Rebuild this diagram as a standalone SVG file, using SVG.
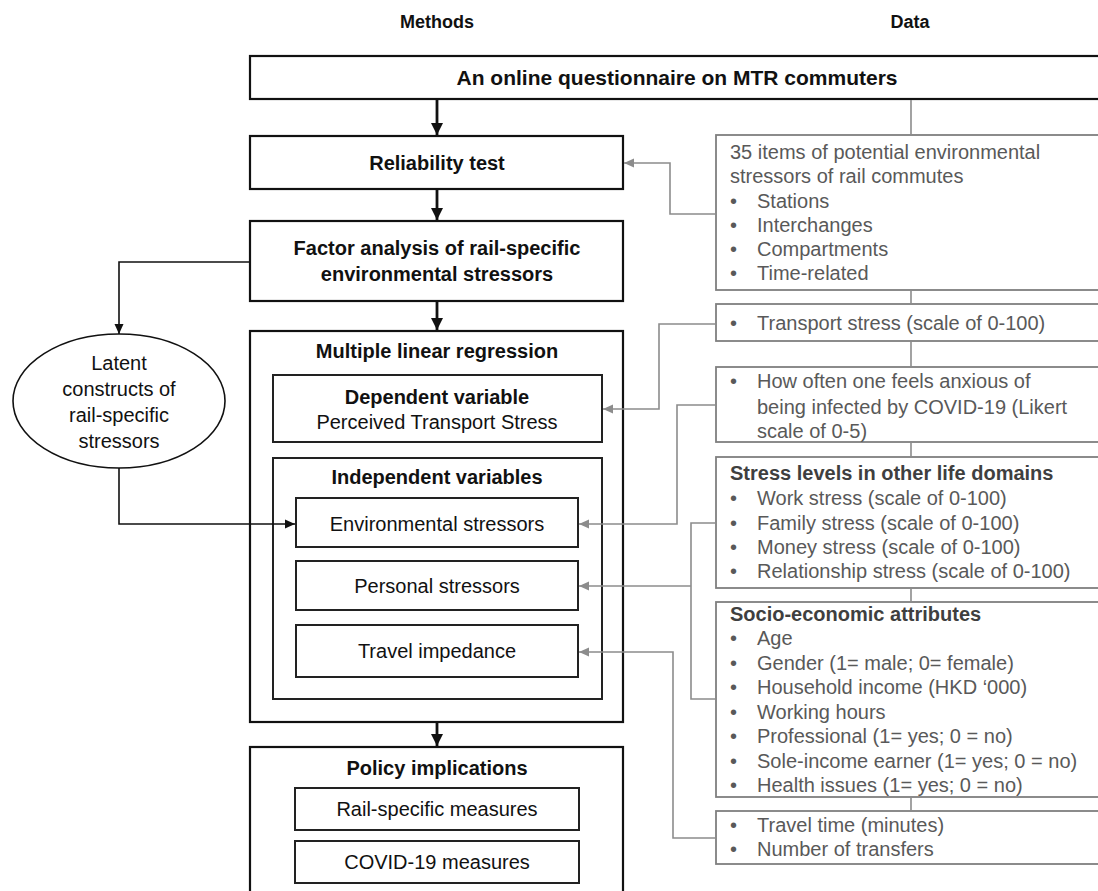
<svg xmlns="http://www.w3.org/2000/svg" width="1098" height="891" viewBox="0 0 1098 891">
<style>
text{font-family:"Liberation Sans",Arial,sans-serif}
.hdr{font-size:18px;font-weight:bold;fill:#111;text-anchor:middle}
.mb{font-size:20px;font-weight:bold;fill:#111;text-anchor:middle}
.mr{font-size:20px;fill:#111;text-anchor:middle}
.box{fill:#fff;stroke:#111;stroke-width:2.2}
.frame{fill:none;stroke:#111;stroke-width:2.2}
.ibox{fill:#fff;stroke:#222;stroke-width:2}
.dbox{fill:#fff;stroke:#7f7f7f;stroke-width:1.8}
.dt{font-size:20px;fill:#595959}
.db{font-size:20px;font-weight:bold;fill:#3f3f3f}
.thick{fill:none;stroke:#111;stroke-width:2.8}
.thin{fill:none;stroke:#111;stroke-width:1.6}
.gray{fill:none;stroke:#8c8c8c;stroke-width:1.6}
</style>
<defs>
<marker id="ab" markerUnits="userSpaceOnUse" markerWidth="12" markerHeight="12" viewBox="0 0 12 12" refX="12" refY="6" orient="auto"><path d="M0,0 L12,6 L0,12 Z" fill="#111"/></marker>
<marker id="as" markerUnits="userSpaceOnUse" markerWidth="10" markerHeight="10" viewBox="0 0 10 10" refX="10" refY="5" orient="auto"><path d="M0,0.5 L10,5 L0,9.5 Z" fill="#111"/></marker>
<marker id="ag" markerUnits="userSpaceOnUse" markerWidth="10" markerHeight="10" viewBox="0 0 10 10" refX="10" refY="5" orient="auto"><path d="M0,0.5 L10,5 L0,9.5 Z" fill="#8c8c8c"/></marker>
</defs>
<rect width="1098" height="891" fill="#fff"/>

<g id="headers">
<text class="hdr" x="437" y="28">Methods</text>
<text class="hdr" x="910" y="28">Data</text>
</g>

<g id="questionnaire">
<rect class="box" x="250" y="56" width="870" height="43"/>
<text class="mb" x="677" y="85" style="font-size:21px">An online questionnaire on MTR commuters</text>
</g>

<g id="reliability">
<rect class="box" x="250" y="136" width="373" height="53"/>
<text class="mb" x="437" y="170">Reliability test</text>
</g>

<g id="factor">
<rect class="box" x="250" y="221" width="373" height="80"/>
<text class="mb" x="437" y="255">Factor analysis of rail-specific</text>
<text class="mb" x="437" y="281">environmental stressors</text>
</g>

<g id="latent">
<ellipse cx="119" cy="401" rx="106" ry="67" fill="#fff" stroke="#111" stroke-width="1.6"/>
<text class="mr" x="119" y="370">Latent</text>
<text class="mr" x="119" y="396">constructs of</text>
<text class="mr" x="119" y="422">rail-specific</text>
<text class="mr" x="119" y="448">stressors</text>
</g>

<g id="regression">
<rect class="frame" x="250" y="331" width="373" height="391"/>
<text class="mb" x="437" y="358">Multiple linear regression</text>
</g>

<g id="dependent">
<rect class="ibox" x="273" y="375" width="329" height="67"/>
<text class="mb" x="437" y="404">Dependent variable</text>
<text class="mr" x="437" y="429">Perceived Transport Stress</text>
</g>

<g id="independent">
<rect class="frame" x="273" y="458" width="329" height="241" style="stroke:#222;stroke-width:2"/>
<text class="mb" x="437" y="484">Independent variables</text>
</g>

<g id="env-stressors">
<rect class="ibox" x="296" y="498" width="282" height="49"/>
<text class="mr" x="437" y="531">Environmental stressors</text>
</g>

<g id="personal-stressors">
<rect class="ibox" x="296" y="561" width="282" height="49"/>
<text class="mr" x="437" y="593">Personal stressors</text>
</g>

<g id="travel-impedance">
<rect class="ibox" x="296" y="625" width="282" height="52"/>
<text class="mr" x="437" y="658">Travel impedance</text>
</g>

<g id="policy">
<rect class="box" x="250" y="747" width="373" height="160"/>
<text class="mb" x="437" y="775">Policy implications</text>
</g>

<g id="rail-measures">
<rect class="ibox" x="295" y="788" width="284" height="42"/>
<text class="mr" x="437" y="816">Rail-specific measures</text>
</g>

<g id="covid-measures">
<rect class="ibox" x="295" y="841" width="284" height="42"/>
<text class="mr" x="437" y="869">COVID-19 measures</text>
</g>

<g id="data-items">
<rect class="dbox" x="716" y="135" width="400" height="155"/>
<text class="dt" x="730" y="159">35 items of potential environmental</text>
<text class="dt" x="730" y="183">stressors of rail commutes</text>
<text class="dt" x="730" y="208">•</text><text class="dt" x="757" y="208">Stations</text>
<text class="dt" x="730" y="232">•</text><text class="dt" x="757" y="232">Interchanges</text>
<text class="dt" x="730" y="256">•</text><text class="dt" x="757" y="256">Compartments</text>
<text class="dt" x="730" y="280">•</text><text class="dt" x="757" y="280">Time-related</text>
</g>

<g id="data-transport">
<rect class="dbox" x="716" y="304" width="400" height="37"/>
<text class="dt" x="730" y="330">•</text><text class="dt" x="757" y="330">Transport stress (scale of 0-100)</text>
</g>

<g id="data-covid">
<rect class="dbox" x="716" y="367" width="400" height="75"/>
<text class="dt" x="730" y="388">•</text><text class="dt" x="757" y="388">How often one feels anxious of</text>
<text class="dt" x="757" y="414">being infected by COVID-19 (Likert</text>
<text class="dt" x="757" y="438">scale of 0-5)</text>
</g>

<g id="data-life">
<rect class="dbox" x="716" y="457" width="400" height="131"/>
<text class="db" x="730" y="480">Stress levels in other life domains</text>
<text class="dt" x="730" y="505">•</text><text class="dt" x="757" y="505">Work stress (scale of 0-100)</text>
<text class="dt" x="730" y="530">•</text><text class="dt" x="757" y="530">Family stress (scale of 0-100)</text>
<text class="dt" x="730" y="554">•</text><text class="dt" x="757" y="554">Money stress (scale of 0-100)</text>
<text class="dt" x="730" y="578">•</text><text class="dt" x="757" y="578">Relationship stress (scale of 0-100)</text>
</g>

<g id="data-socio">
<rect class="dbox" x="716" y="602" width="400" height="195"/>
<text class="db" x="730" y="621">Socio-economic attributes</text>
<text class="dt" x="730" y="645">•</text><text class="dt" x="757" y="645">Age</text>
<text class="dt" x="730" y="670">•</text><text class="dt" x="757" y="670">Gender (1= male; 0= female)</text>
<text class="dt" x="730" y="694">•</text><text class="dt" x="757" y="694">Household income (HKD ‘000)</text>
<text class="dt" x="730" y="719">•</text><text class="dt" x="757" y="719">Working hours</text>
<text class="dt" x="730" y="743">•</text><text class="dt" x="757" y="743">Professional (1= yes; 0 = no)</text>
<text class="dt" x="730" y="768">•</text><text class="dt" x="757" y="768">Sole-income earner (1= yes; 0 = no)</text>
<text class="dt" x="730" y="792">•</text><text class="dt" x="757" y="792">Health issues (1= yes; 0 = no)</text>
</g>

<g id="data-travel">
<rect class="dbox" x="716" y="811" width="400" height="53"/>
<text class="dt" x="730" y="832">•</text><text class="dt" x="757" y="832">Travel time (minutes)</text>
<text class="dt" x="730" y="856">•</text><text class="dt" x="757" y="856">Number of transfers</text>
</g>

<g id="connectors">
<!-- data spine segments -->
<path class="gray" d="M911,100 V134 M911,291 V303 M911,342 V366 M911,443 V456 M911,589 V601 M911,798 V810"/>
<!-- black flow -->
<path class="thick" d="M437,100 V135" marker-end="url(#ab)"/>
<path class="thick" d="M437,190 V220" marker-end="url(#ab)"/>
<path class="thick" d="M437,302 V330" marker-end="url(#ab)"/>
<path class="thick" d="M437,723 V746" marker-end="url(#ab)"/>
<path class="thin" d="M249,262 H119 V334" marker-end="url(#as)"/>
<path class="thin" d="M119,468 V524 H295" marker-end="url(#as)"/>
<!-- gray data links -->
<path class="gray" d="M715,214 H670 V163 H624" marker-end="url(#ag)"/>
<path class="gray" d="M715,324 H659 V409 H603" marker-end="url(#ag)"/>
<path class="gray" d="M715,405 H677 V524 H579" marker-end="url(#ag)"/>
<path class="gray" d="M715,523 H691 V699 H715"/>
<path class="gray" d="M691,586 H579" marker-end="url(#ag)"/>
<path class="gray" d="M715,838 H673 V652 H579" marker-end="url(#ag)"/>
</g>
</svg>
